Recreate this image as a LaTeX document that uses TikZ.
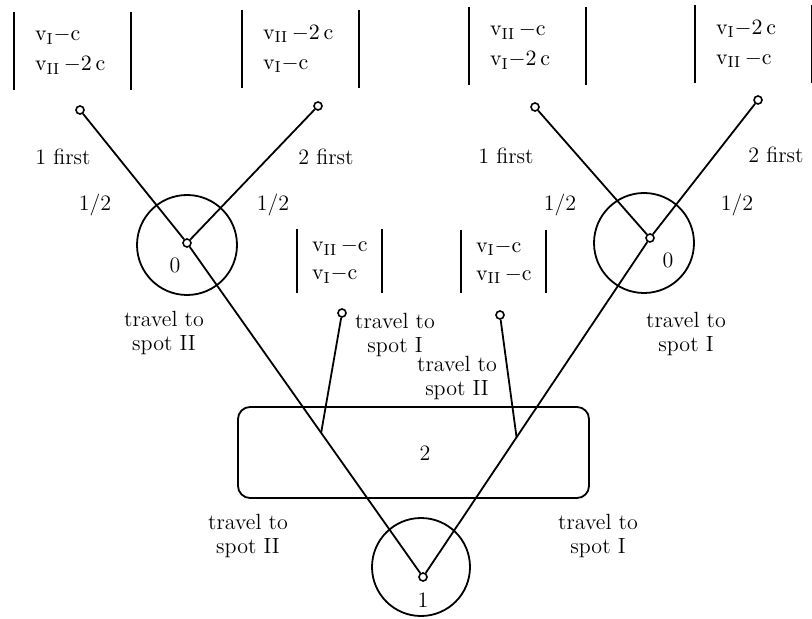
\documentclass[tikz,border=0pt]{standalone}
\usepackage{amsmath}
\usepackage{tikz}

\begin{document}
\begin{tikzpicture}[x=0.5pt,y=-0.5pt,line width=0.9pt,
  every node/.style={font=\fontsize{11}{12}\selectfont},
  dot/.style={circle,draw,fill=white,inner sep=0pt,minimum size=4pt,line width=0.8pt},
  infoset/.style={circle,draw,minimum size=50pt,inner sep=0pt},
  payoff/.style={align=left,inner xsep=10pt,text width=37.5pt,minimum height=38pt,font=\fontsize{11}{15}\selectfont},
  midpayoff/.style={payoff,inner xsep=7pt,text width=27.5pt,minimum height=31pt,font=\fontsize{11}{14}\selectfont},
  twoline/.style={align=center}]
\useasboundingbox (0,0) rectangle (812,619);

% information sets
\node[infoset] (set_a) at (187,245) {};
\node[infoset] (set_b) at (644,243) {};
\node[infoset,minimum size=49pt] (set_r) at (421,567) {};
\node[draw,rounded corners=6pt,minimum width=175.5pt,minimum height=45.5pt] (set_two) at (413.5,452.5) {};

% decision nodes and end points
\node[dot] (r) at (423,577) {};
\node[dot] (a) at (187,243) {};
\node[dot] (b) at (650,238) {};
\node[dot] (l1) at (80,110) {};
\node[dot] (l2) at (318,106) {};
\node[dot] (l3) at (535,107) {};
\node[dot] (l4) at (758,100) {};
\node[dot] (l5) at (342,313) {};
\node[dot] (l6) at (500,315) {};

% branches
\draw (r) -- coordinate[pos=0.43] (m1) (a);
\draw (r) -- coordinate[pos=0.41] (m2) (b);
\draw (a) -- (l1);
\draw (a) -- (l2);
\draw (b) -- (l3);
\draw (b) -- (l4);
\draw (m1) -- (l5);
\draw (m2) -- (l6);

% payoffs
\node[payoff] (pay_a) at (72.5,51) {$\mathrm{v_{I}}{-}\mathrm{c}$\\$\mathrm{v_{II}}\,{-}2\,\mathrm{c}$};
\node[payoff] (pay_b) at (300.5,49) {$\mathrm{v_{II}}\,{-}2\,\mathrm{c}$\\$\mathrm{v_{I}}{-}\mathrm{c}$};
\node[payoff] (pay_c) at (527.5,46) {$\mathrm{v_{II}}\,{-}\mathrm{c}$\\$\mathrm{v_{I}}{-}2\,\mathrm{c}$};
\node[payoff] (pay_d) at (753.5,44) {$\mathrm{v_{I}}{-}2\,\mathrm{c}$\\$\mathrm{v_{II}}\,{-}\mathrm{c}$};
\node[midpayoff] (pay_e) at (339.5,261) {$\mathrm{v_{II}}\,{-}\mathrm{c}$\\$\mathrm{v_{I}}{-}\mathrm{c}$};
\node[midpayoff] (pay_f) at (503.5,261.5) {$\mathrm{v_{I}}{-}\mathrm{c}$\\$\mathrm{v_{II}}\,{-}\mathrm{c}$};
\foreach \p in {pay_a,pay_b,pay_c,pay_d,pay_e,pay_f}
  \draw (\p.north west) -- (\p.south west) (\p.north east) -- (\p.south east);

% player labels
\node (lab_r) at (423,600) {1};
\node (lab_two) at (425,453) {2};
\node (lab_a) at (175,265) {0};
\node (lab_b) at (668,260) {0};

% move labels
\node (first_a1) at (63,157) {1 first};
\node (first_a2) at (326,157) {2 first};
\node (half_a1) at (95,205) {1/2};
\node (half_a2) at (273,205) {1/2};
\node (first_b1) at (506,156) {1 first};
\node (first_b2) at (776,155) {2 first};
\node (half_b1) at (560,205) {1/2};
\node (half_b2) at (737,205) {1/2};
\node[twoline] (go_a) at (164,333) {travel to\\spot II};
\node[twoline] (go_b) at (686,334) {travel to\\spot I};
\node[twoline] (go_e) at (395,335) {travel to\\spot I};
\node[twoline] (go_f) at (457,378) {travel to\\spot II};
\node[twoline] (go_r1) at (248,536) {travel to\\spot II};
\node[twoline] (go_r2) at (598,536) {travel to\\spot I};
\end{tikzpicture}
\end{document}
